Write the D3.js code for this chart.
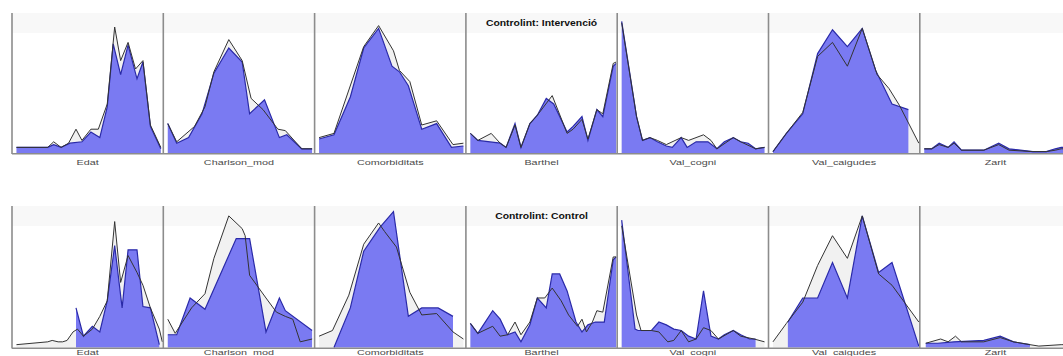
<!DOCTYPE html>
<html><head><meta charset="utf-8">
<script src="https://cdn.jsdelivr.net/npm/d3@7"></script>
<style>html,body{margin:0;padding:0;background:#fff;overflow:hidden}</style>
</head><body>
<svg id="chart" width="1063" height="356"></svg>
<script>
// ---- data ----
const variables = ["Edat","Charlson_mod","Comorbiditats","Barthel","Val_cogni","Val_caigudes","Zarit"];
const groups = ["Controlint: Intervenció","Controlint: Control"];
// each series: [x (0-100 of variable range), density (0-100 of panel height)]
// Row 1 – Intervenció: blue = group density, grey = overall density
const edat1Blue = [[2,4],[23,4],[27,6],[32,4],[38,7],[46,8],[52,15],[58,11],[63,33],[67,78],[72,56],[77,77],[83,53],[87,65],[92,19],[99,3]];
const edat1Grey = [[2,4],[23,4],[27,8],[32,4],[37,7],[42,17],[46,9],[52,17],[57,17],[63,35],[68,90],[72,66],[77,79],[82,60],[87,66],[92,20],[99,4]];
const charl1Blue = [[2,21],[8,7],[16,11],[25,28],[33,57],[43,75],[52,65],[57,28],[67,38],[77,11],[82,13],[92,3],[99,3]];
const charl1Grey = [[2,21],[8,8],[20,19],[27,33],[33,58],[43,81],[52,66],[58,39],[66,31],[76,17],[81,16],[92,3],[99,3]];
const comor1Blue = [[2,10],[12,13],[23,40],[32,75],[42,89],[51,62],[56,58],[62,48],[71,17],[81,21],[91,4],[99,5]];
const comor1Grey = [[2,11],[12,14],[32,76],[42,91],[52,73],[56,59],[63,51],[71,20],[81,23],[92,6],[99,7]];
const barth1Blue = [[2,14],[7,9],[22,7],[26,4],[32,21],[36,4],[42,21],[47,27],[53,39],[58,35],[67,15],[71,19],[77,26],[81,9],[87,31],[91,26],[98,62],[100,64]];
const barth1Grey = [[2,14],[7,9],[16,14],[22,7],[26,4],[32,20],[36,4],[42,21],[47,27],[57,41],[67,14],[71,17],[77,24],[81,10],[87,31],[91,28],[98,64],[100,65]];
const cogni1Blue = [[2,94],[12,26],[16,9],[21,11],[26,8],[32,5],[36,4],[42,11],[46,4],[52,8],[60,8],[66,3],[71,8],[77,11],[82,8],[87,7],[92,3],[98,4]];
const cogni1Grey = [[2,93],[12,26],[16,9],[21,11],[26,9],[32,6],[42,11],[47,9],[57,13],[62,9],[66,3],[77,11],[82,8],[92,3],[98,4]];
const caig1Blue = [[2,1],[11,14],[22,28],[32,71],[42,88],[52,76],[62,89],[71,59],[82,35],[93,31]];
const caig1Grey = [[2,1],[11,14],[22,29],[32,69],[42,79],[52,62],[62,89],[72,56],[80,46],[87,34],[100,7]];
const zarit1Blue = [[2,3],[7,3],[12,7],[18,4],[22,8],[27,2],[42,2],[52,7],[59,3],[75,1],[84,1],[90,3],[94,4],[99,4]];
const zarit1Grey = [[2,3],[7,3],[12,6],[18,4],[22,7],[27,2],[42,2],[52,6],[59,2],[75,1],[84,1],[90,2],[94,3],[99,3]];
// Row 2 – Control
const edat2Blue = [[42,28],[47,8],[53,15],[58,11],[63,33],[68,72],[73,28],[77,69],[83,69],[87,29],[92,28],[98,2]];
const edat2Grey = [[2,2],[23,4],[26,5],[30,4],[33,4],[36,5],[40,11],[43,13],[47,8],[53,13],[58,22],[63,33],[68,89],[72,46],[77,65],[83,53],[87,44],[92,28],[98,13],[100,4]];
const charl2Blue = [[2,9],[8,9],[17,35],[27,27],[48,77],[57,77],[68,11],[77,35],[81,26],[99,12]];
const charl2Grey = [[2,20],[7,10],[18,28],[27,38],[33,63],[43,93],[52,84],[54,79],[57,51],[68,35],[75,25],[81,22],[86,20],[91,4],[99,6]];
const comor2Blue = [[12,0],[23,28],[32,68],[43,85],[52,96],[62,22],[71,28],[82,28],[92,22]];
const comor2Grey = [[2,8],[11,12],[22,37],[32,73],[42,88],[46,82],[54,71],[63,39],[71,23],[81,24],[92,11],[99,6]];
const barth2Blue = [[2,17],[7,10],[17,26],[22,20],[27,9],[32,11],[36,4],[42,16],[47,35],[53,28],[57,52],[62,52],[67,40],[73,18],[77,11],[81,16],[86,18],[92,18],[98,62],[100,64]];
const barth2Grey = [[2,17],[7,10],[17,15],[22,8],[27,9],[32,18],[36,9],[42,18],[47,35],[52,35],[57,42],[63,33],[68,23],[74,15],[77,20],[80,11],[84,18],[87,26],[91,25],[98,64],[100,64]];
const cogni2Blue = [[2,90],[11,13],[13,12],[22,12],[27,18],[32,16],[37,13],[42,12],[47,8],[52,6],[57,40],[62,8],[67,6],[71,9],[77,12],[82,9],[88,6],[92,6]];
const cogni2Grey = [[2,86],[12,23],[15,12],[22,12],[27,11],[33,4],[37,5],[42,12],[47,4],[52,6],[57,14],[62,12],[67,6],[77,12],[82,8],[91,6],[98,4]];
const caig2Blue = [[12,18],[22,35],[32,35],[42,60],[52,35],[62,93],[73,53],[82,60],[100,1]];
const caig2Grey = [[2,4],[11,17],[22,32],[32,58],[42,79],[52,63],[62,93],[73,52],[82,44],[100,18]];
const zarit2Blue = [[3,3],[11,3],[22,4],[42,5],[53,8],[62,4],[73,2]];
const zarit2Grey = [[3,3],[13,6],[18,4],[23,8],[27,4],[42,4],[53,7],[62,4],[73,2],[79,1],[94,2],[99,2]];

const blueSeries = [
  [edat1Blue,charl1Blue,comor1Blue,barth1Blue,cogni1Blue,caig1Blue,zarit1Blue],
  [edat2Blue,charl2Blue,comor2Blue,barth2Blue,cogni2Blue,caig2Blue,zarit2Blue]];
const greySeries = [
  [edat1Grey,charl1Grey,comor1Grey,barth1Grey,cogni1Grey,caig1Grey,zarit1Grey],
  [edat2Grey,charl2Grey,comor2Grey,barth2Grey,cogni2Grey,caig2Grey,zarit2Grey]];

// ---- layout ----
const svg = d3.select("#chart");
const left = 12, panelW = 151.3;
const rows = [{top:13, bottom:153, labelY:165}, {top:206, bottom:347.5, labelY:355}];
const bandH = 20;
const titlePanel = 3;
const FONT = "Liberation Sans, Arial, sans-serif";

const px = d3.scaleBand().domain(variables).range([left, left + panelW*variables.length]).paddingInner(0).paddingOuter(0);

function stretch(sel, k) {
  sel.each(function() {
    const w = this.getComputedTextLength();
    d3.select(this).attr("textLength", w * k).attr("lengthAdjust", "spacingAndGlyphs");
  });
}

rows.forEach((r, ri) => {
  const g = svg.append("g");
  const y = d3.scaleLinear().domain([0,100]).range([r.bottom, r.top]);
  g.append("rect").attr("x", left).attr("y", r.top).attr("width", panelW*variables.length).attr("height", bandH).attr("fill","#f8f8f8");

  variables.forEach((v, vi) => {
    const x0 = px(v);
    const x = d3.scaleLinear().domain([0,100]).range([x0 + 1.5, x0 + px.bandwidth() - 1]);
    const clipId = `clip-${ri}-${vi}`;
    g.append("clipPath").attr("id", clipId).append("rect")
      .attr("x", x0 + 1).attr("y", r.top).attr("width", px.bandwidth() - 1).attr("height", r.bottom - r.top + 1);
    const pg = g.append("g").attr("clip-path", `url(#${clipId})`);
    const area = d3.area().x(d => x(d[0])).y0(y(0)).y1(d => y(d[1]));
    const line = d3.line().x(d => x(d[0])).y(d => y(d[1]));
    const grey = greySeries[ri][vi], blue = blueSeries[ri][vi];
    pg.append("path").attr("d", area(grey)).attr("fill", "#f1f1f1");
    pg.append("path").attr("d", area(blue)).attr("fill", "#7a7af2");
    pg.append("path").attr("d", line(blue)).attr("fill","none").attr("stroke","#2a2aa8").attr("stroke-width",1.2);
    pg.append("path").attr("d", line(grey)).attr("fill","none").attr("stroke","#333").attr("stroke-width",1);

    g.append("line").attr("x1", x0).attr("x2", x0).attr("y1", r.top).attr("y2", r.bottom + 1)
      .attr("stroke", "#8c8c8c").attr("stroke-width", 1.6);
    const t = g.append("text").attr("x", x0 + px.bandwidth()/2).attr("y", r.labelY)
      .attr("text-anchor","middle").attr("font-family", FONT)
      .attr("font-size", 8).attr("fill", "#4a4a4a").text(v);
    stretch(t, 1.35);
  });
  g.append("line").attr("x1", left).attr("x2", left + panelW*variables.length).attr("y1", r.bottom + 0.8).attr("y2", r.bottom + 0.8)
    .attr("stroke", "#8c8c8c").attr("stroke-width", 1.6);
  const tx = px(variables[titlePanel]) + px.bandwidth()/2;
  const tt = g.append("text").attr("x", tx).attr("y", r.top + 13).attr("text-anchor","middle")
    .attr("font-family", FONT).attr("font-weight","bold")
    .attr("font-size", 8.5).attr("fill","#111").text(groups[ri]);
  stretch(tt, 1.22);
});
</script>
</body></html>
